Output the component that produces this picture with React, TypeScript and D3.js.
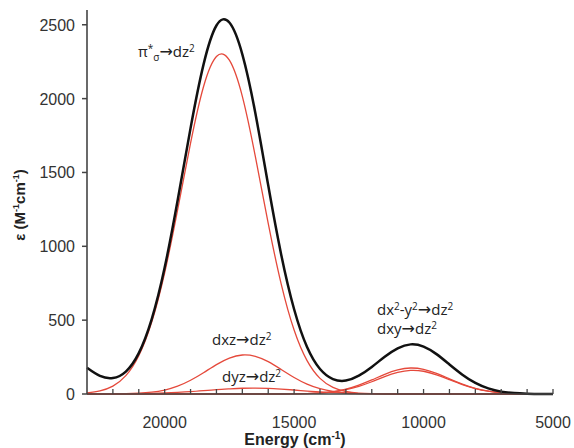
import React from 'react';
import * as d3 from 'd3';

// energies (cm-1), read every 500 cm-1 across the axis
const energy = [23000, 22500, 22000, 21500, 21000, 20500, 20000, 19500, 19000, 18500, 18000, 17500, 17000, 16500, 16000, 15500, 15000, 14500, 14000, 13500, 13000, 12500, 12000, 11500, 11000, 10500, 10000, 9500, 9000, 8500, 8000, 7500, 7000, 6500, 6000, 5500, 5000];

// total absorption (black)
const total = [177, 122, 108, 152, 277, 507, 856, 1310, 1800, 2230, 2495, 2515, 2300, 1905, 1413, 945, 574, 318, 169, 101, 91, 124, 183, 252, 309, 336, 321, 270, 200, 131, 75, 38, 16, 6, 2, 0, 0];

// gaussian components (red)
const piSigma = [7, 21, 53, 124, 259, 487, 821, 1246, 1698, 2080, 2285, 2260, 2015, 1610, 1156, 746, 433, 226, 106, 45, 17, 6, 2, 0, 0, 0, 0, 0, 0, 0, 0, 0, 0, 0, 0, 0, 0];
const dxz = [0, 0, 1, 2, 5, 12, 27, 53, 93, 144, 199, 243, 264, 255, 219, 166, 112, 67, 36, 17, 7, 3, 1, 0, 0, 0, 0, 0, 0, 0, 0, 0, 0, 0, 0, 0, 0];
const dyz = [0, 0, 0, 1, 2, 4, 7, 11, 16, 23, 30, 35, 39, 40, 38, 33, 27, 20, 14, 9, 5, 3, 2, 1, 0, 0, 0, 0, 0, 0, 0, 0, 0, 0, 0, 0, 0];
const dx2y2 = [0, 0, 0, 0, 0, 0, 0, 0, 0, 0, 0, 0, 0, 0, 0, 0, 1, 3, 7, 16, 33, 60, 95, 133, 163, 176, 167, 140, 103, 67, 38, 19, 8, 3, 1, 0, 0];
const dxy = [0, 0, 0, 0, 0, 0, 0, 0, 0, 0, 0, 0, 0, 0, 0, 0, 1, 2, 6, 14, 29, 52, 83, 118, 146, 160, 154, 130, 97, 64, 37, 19, 8, 3, 1, 0, 0];

const xMajorTicks = [20000, 15000, 10000, 5000];
const xMinorTicks = [22000, 21000, 20000, 19000, 18000, 17000, 16000, 15000, 14000, 13000, 12000, 11000, 10000, 9000, 8000, 7000, 6000, 5000];
const yTicks = [0, 500, 1000, 1500, 2000, 2500];

const W = 574;
const H = 448;
const FONT = "'Liberation Sans', Arial, sans-serif";
const LABEL_FONT = "'Open Sans', 'Liberation Sans', sans-serif";
const ARROW_FONT = "'DejaVu Sans', sans-serif";
const AXIS = '#444';
const RED = '#e5493b';

const x = d3.scaleLinear().domain([23000, 5000]).range([87, 553]);
const y = d3.scaleLinear().domain([0, 2600]).range([394, 10]);

const line = d3.line<number>()
  .x((_, i) => x(energy[i]))
  .y(d => Math.min(y(0), y(d)))
  .curve(d3.curveNatural);

const components = [piSigma, dxz, dyz, dx2y2, dxy];

const Arrow = ({ dy = 0 }: { dy?: number }) => <tspan dy={dy} fontFamily={ARROW_FONT} fontSize={16}>→</tspan>;
const Sup = ({ t }: { t: string }) => <tspan dy={-5} fontSize={10}>{t}</tspan>;

export default function App() {
  const x0 = x(23000);
  const x1 = x(5000);
  const yb = y(0);
  return (
    <svg width={W} height={H} style={{ position: 'absolute', left: 0, top: 0, background: '#fff' }} fontFamily={FONT}>
      {/* red components */}
      {components.map((c, i) => (
        <path key={i} d={line(c) || ''} fill='none' stroke={RED} strokeWidth={1.3} />
      ))}
      {/* total */}
      <path d={line(total) || ''} fill='none' stroke='#111' strokeWidth={2.5} />

      {/* axes */}
      <line x1={x0} x2={x0} y1={y(2600)} y2={yb} stroke={AXIS} strokeWidth={1.6} />
      <line x1={x0} x2={x1} y1={yb} y2={yb} stroke={AXIS} strokeWidth={1.6} />
      {yTicks.map(t => (
        <g key={t}>
          <line x1={x0 - 5} x2={x0} y1={y(t)} y2={y(t)} stroke={AXIS} strokeWidth={1.5} />
          <text x={x0 - 12} y={y(t) + 6} textAnchor='end' fontSize={16} fill='#333'>{t}</text>
        </g>
      ))}
      {xMinorTicks.map(t => (
        <line key={t} x1={x(t)} x2={x(t)} y1={yb - 5} y2={yb} stroke={AXIS} strokeWidth={1.3} />
      ))}
      {xMajorTicks.map(t => (
        <text key={t} x={x(t)} y={428} textAnchor='middle' fontSize={16} fill='#333'>{t}</text>
      ))}

      {/* axis titles */}
      <text x={295} y={445} textAnchor='middle' fontSize={16} fontWeight='bold' fill='#222'>
        Energy (cm<tspan dy={-6} fontSize={10}>-1</tspan><tspan dy={6}>)</tspan>
      </text>
      <text transform='translate(25,205) rotate(-90)' textAnchor='middle' fontSize={15} fontWeight='bold' fill='#222'>
        ε (M<tspan dy={-6} fontSize={9}>-1</tspan><tspan dy={6}>cm</tspan><tspan dy={-6} fontSize={9}>-1</tspan><tspan dy={6}>)</tspan>
      </text>

      {/* band labels */}
      <g fontFamily={LABEL_FONT} fontSize={15} fill='#222'>
        <text x={138} y={57}>
          π<Sup t='*' /><tspan dy={9} fontSize={10}>σ</tspan><Arrow dy={-4} />dz<Sup t='2' />
        </text>
        <text x={212} y={345}>
          dxz<Arrow />dz<Sup t='2' />
        </text>
        <text x={222} y={382}>
          dyz<Arrow />dz<Sup t='2' />
        </text>
        <text x={377} y={315}>
          dx<Sup t='2' /><tspan dy={5}>-y</tspan><Sup t='2' /><Arrow dy={5} />dz<Sup t='2' />
        </text>
        <text x={377} y={334}>
          dxy<Arrow />dz<Sup t='2' />
        </text>
      </g>
    </svg>
  );
}
